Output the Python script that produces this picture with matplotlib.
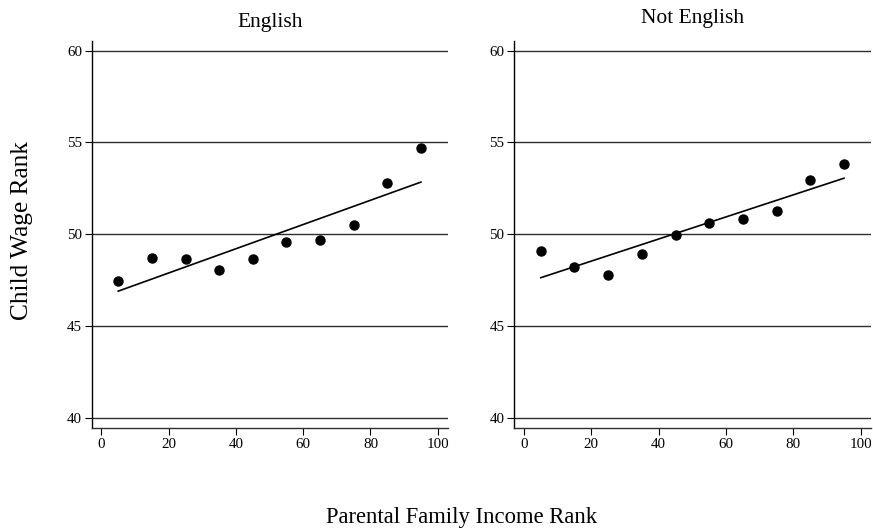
import matplotlib
matplotlib.use("Agg")
import matplotlib.pyplot as plt
import numpy as np

plt.rcParams['font.family'] = ['Liberation Serif', 'DejaVu Serif']

# parental income rank bins (midpoints)
rank = [5, 15, 25, 35, 45, 55, 65, 75, 85, 95]
# mean child wage rank in each bin
wage_english = [47.44, 48.69, 48.66, 48.04, 48.66, 49.55, 49.69, 50.49, 52.78, 54.70]
wage_not_english = [49.06, 48.24, 47.80, 48.93, 49.95, 50.60, 50.82, 51.24, 52.98, 53.80]
titles = ['English', 'Not English']
yticks = [40, 45, 50, 55, 60]
xticks = [0, 20, 40, 60, 80, 100]

fig = plt.figure(figsize=(8.73, 5.29), dpi=100)
ax1 = fig.add_axes([0.105, 0.1909, 0.408, 0.7316])
ax2 = fig.add_axes([0.589, 0.1909, 0.4086, 0.7316])

for ax, y in zip([ax1, ax2], [wage_english, wage_not_english]):
    x = np.array(rank)
    y = np.array(y)
    for t in yticks:
        ax.axhline(t, color='#2e2e2e', lw=1.0, zorder=1)
    # linear fit
    b, a = np.polyfit(x, y, 1)
    ax.plot([x[0], x[-1]], [a + b * x[0], a + b * x[-1]], color='black', lw=1.2, zorder=2)
    ax.plot(x, y, 'o', color='black', markersize=6.5, zorder=3)
    ax.set_xlim(-2.9, 103)
    ax.set_ylim(39.44, 60.53)
    ax.set_xticks(xticks)
    ax.set_yticks(yticks)
    ax.spines['top'].set_visible(False)
    ax.spines['right'].set_visible(False)
    ax.spines['left'].set_linewidth(1.0)
    ax.spines['bottom'].set_linewidth(1.0)
    ax.spines['bottom'].set_color('#2e2e2e')
    ax.tick_params(axis='both', labelsize=10.8, length=5, width=0.8, pad=2)

fig.text(0.309, 1 - 27.5 / 529, titles[0], ha='center', va='baseline', fontsize=15.5)
fig.text(0.7935, 1 - 22.5 / 529, titles[1], ha='center', va='baseline', fontsize=15.5)
fig.text(22 / 873, 1 - 231 / 529, 'Child Wage Rank', rotation=90, ha='center', va='center', fontsize=18.3)
fig.text(462 / 873, 1 - 523 / 529, 'Parental Family Income Rank', ha='center', va='baseline', fontsize=16.3)

fig.savefig('out.png', dpi=100)
